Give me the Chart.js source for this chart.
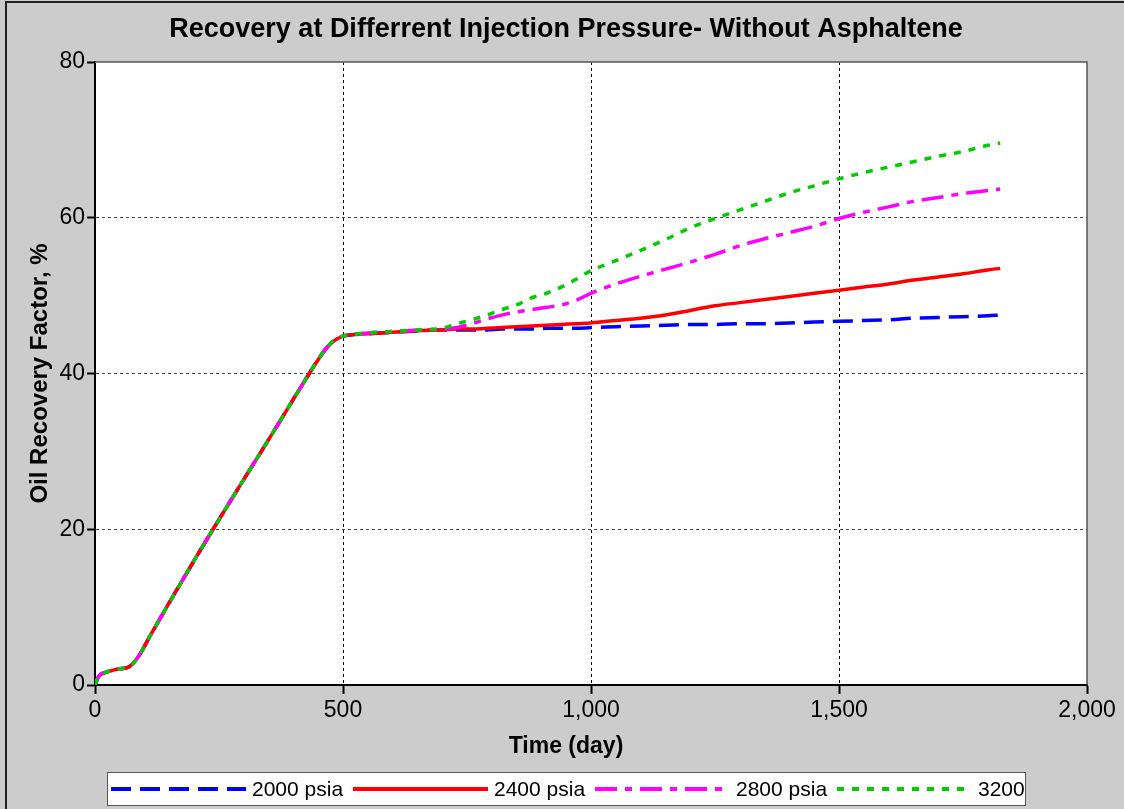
<!DOCTYPE html>
<html>
<head>
<meta charset="utf-8">
<script src="https://cdn.jsdelivr.net/npm/chart.js@4.4.0/dist/chart.umd.min.js"></script>
<style>
html, body { margin: 0; padding: 0; background: #cccccc; }
#wrap { width: 1124px; height: 809px; }
</style>
</head>
<body>
<div id="wrap"><canvas id="recovery"></canvas></div>
<script>
// time axis, days
var days = [0, 5, 10, 20, 36, 50, 64, 77, 90, 111, 150, 200, 238, 300, 350, 400, 432, 447, 462, 474,
    487, 500, 550, 600, 650, 700, 730, 760, 790, 820, 850, 880, 910, 940, 970, 1000,
    1050, 1100, 1150, 1200, 1250, 1300, 1350, 1400, 1450, 1500, 1550, 1600, 1650, 1700, 1750, 1800, 1825];

// oil recovery factor, %
var rf2000 = [0, 0.8, 1.3, 1.6, 1.9, 2.1, 2.2, 2.8, 3.9, 6.3, 10.6, 16.0, 20.0, 26.4, 31.5, 36.7, 40.0, 41.5, 42.9, 43.8,
    44.4, 44.8, 45.1, 45.3, 45.5, 45.6, 45.6, 45.6, 45.6, 45.7, 45.7, 45.7, 45.8, 45.8, 45.8, 45.9,
    46.0, 46.1, 46.2, 46.3, 46.3, 46.4, 46.4, 46.5, 46.6, 46.7, 46.8, 46.9, 47.1, 47.2, 47.3, 47.4, 47.5];
var rf2400 = [0, 0.8, 1.3, 1.6, 1.9, 2.1, 2.2, 2.8, 3.9, 6.3, 10.6, 16.0, 20.0, 26.4, 31.5, 36.7, 40.0, 41.5, 42.9, 43.8,
    44.4, 44.8, 45.1, 45.3, 45.5, 45.6, 45.7, 45.7, 45.8, 45.9, 46.0, 46.1, 46.2, 46.3, 46.4, 46.5,
    46.8, 47.1, 47.5, 48.1, 48.7, 49.1, 49.5, 49.9, 50.3, 50.7, 51.1, 51.5, 52.0, 52.4, 52.8, 53.3, 53.5];
var rf2800 = [0, 0.8, 1.3, 1.6, 1.9, 2.1, 2.2, 2.8, 3.9, 6.3, 10.6, 16.0, 20.0, 26.4, 31.5, 36.7, 40.0, 41.5, 42.9, 43.8,
    44.4, 44.8, 45.2, 45.4, 45.6, 45.7, 45.9, 46.4, 47.0, 47.5, 47.9, 48.2, 48.5, 48.8, 49.4, 50.3,
    51.5, 52.5, 53.4, 54.3, 55.3, 56.4, 57.3, 58.1, 58.9, 59.9, 60.7, 61.4, 62.1, 62.6, 63.1, 63.5, 63.7];
var rf3200 = [0, 0.8, 1.3, 1.6, 1.9, 2.1, 2.2, 2.8, 3.9, 6.3, 10.6, 16.0, 20.0, 26.4, 31.5, 36.7, 40.0, 41.5, 42.9, 43.8,
    44.4, 44.8, 45.2, 45.4, 45.6, 45.8, 46.4, 46.9, 47.5, 48.2, 48.8, 49.7, 50.3, 51.1, 52.1, 53.2,
    54.5, 55.8, 57.2, 58.7, 59.9, 61.0, 62.1, 63.2, 64.1, 65.0, 65.8, 66.5, 67.2, 67.9, 68.5, 69.3, 69.6];

var seriesNames = ["2000 psia", "2400 psia", "2800 psia", "3200"];
var xTicks = [0, 500, 1000, 1500, 2000];
var yTicks = [0, 20, 40, 60, 80];

var FONT = "'Liberation Sans', Arial, sans-serif";

function points(vals) {
    return days.map(function(d, i) { return {x: d, y: vals[i]}; });
}

var frame = {
    id: "frame",
    beforeDraw: function(chart) {
        var ctx = chart.ctx, a = chart.chartArea;
        ctx.save();
        ctx.fillStyle = "#cccccc";
        ctx.fillRect(0, 0, chart.width, chart.height);
        ctx.fillStyle = "#ffffff";
        ctx.fillRect(a.left, a.top, a.right - a.left, a.bottom - a.top);
        // outer border
        ctx.strokeStyle = "#222222";
        ctx.lineWidth = 2;
        ctx.beginPath();
        ctx.moveTo(6, chart.height);
        ctx.lineTo(6, 2);
        ctx.lineTo(chart.width, 2);
        ctx.stroke();
        // titles
        ctx.fillStyle = "#000000";
        ctx.textAlign = "center";
        ctx.textBaseline = "middle";
        ctx.font = "bold 27px " + FONT;
        ctx.fillText("Recovery at Differrent Injection Pressure- Without Asphaltene", 566, 30);
        ctx.font = "bold 23px " + FONT;
        ctx.fillText("Time (day)", 566, 747);
        ctx.restore();
    },
    afterDraw: function(chart) {
        var ctx = chart.ctx, a = chart.chartArea;
        ctx.save();
        ctx.strokeStyle = "#555555";
        ctx.lineWidth = 1.5;
        ctx.beginPath();
        ctx.moveTo(a.left, a.top);
        ctx.lineTo(a.right, a.top);
        ctx.lineTo(a.right, a.bottom);
        ctx.stroke();

        // legend box
        ctx.fillStyle = "#ffffff";
        ctx.fillRect(107, 772, 918, 33);
        ctx.strokeStyle = "#555555";
        ctx.lineWidth = 1;
        ctx.strokeRect(107.5, 772.5, 918, 33);
        ctx.font = "21px " + FONT;
        ctx.textBaseline = "middle";
        ctx.textAlign = "left";
        var starts = [111, 353, 595, 837], y = 789;
        chart.data.datasets.forEach(function(ds, i) {
            var x = starts[i];
            ctx.strokeStyle = ds.borderColor;
            ctx.lineWidth = 4;
            ctx.setLineDash(ds.borderDash || []);
            ctx.beginPath();
            ctx.moveTo(x, y);
            ctx.lineTo(x + 135, y);
            ctx.stroke();
            ctx.setLineDash([]);
            ctx.fillStyle = "#000000";
            ctx.fillText(ds.label, x + 141, y + 1);
        });
        ctx.restore();
    }
};

var ctx = document.getElementById("recovery");
var myChart = new Chart(ctx, {
    type: "line",
    data: {
        datasets: [
            {label: seriesNames[0], data: points(rf2000), borderColor: "#0000ff", borderDash: [20, 9], order: 3},
            {label: seriesNames[1], data: points(rf2400), borderColor: "#ff0000", borderDash: [], order: 2},
            {label: seriesNames[2], data: points(rf2800), borderColor: "#ff00ff", borderDash: [22, 8, 7, 8], order: 1},
            {label: seriesNames[3], data: points(rf3200), borderColor: "#00cc00", borderDash: [7, 8], order: 0}
        ]
    },
    options: {
        responsive: true,
        maintainAspectRatio: false,
        animation: false,
        layout: { padding: { left: 0, right: 37, top: 62, bottom: 0 } },
        elements: {
            point: { radius: 0 },
            line: { borderWidth: 3.5, cubicInterpolationMode: "monotone", fill: false }
        },
        plugins: {
            legend: { display: false },
            title: { display: false },
            tooltip: { enabled: false }
        },
        scales: {
            x: {
                type: "linear",
                min: 0,
                max: 2000,
                afterFit: function(scale) { scale.height = 124; },
                afterBuildTicks: function(scale) { scale.ticks = xTicks.map(function(v) { return {value: v}; }); },
                ticks: { color: "#000000", font: { family: FONT, size: 23 }, padding: 3, maxRotation: 0 },
                grid: {
                    color: function(c) { return (c.tick && (c.tick.value === 0 || c.tick.value === 2000)) ? "rgba(0,0,0,0)" : "#000000"; },
                    lineWidth: 1,
                    tickColor: "#000000",
                    tickWidth: 2,
                    tickLength: 9
                },
                border: { display: true, color: "#000000", width: 2, dash: [3, 3] }
            },
            y: {
                min: 0,
                max: 80,
                afterFit: function(scale) { scale.width = 95; },
                afterBuildTicks: function(scale) { scale.ticks = yTicks.map(function(v) { return {value: v}; }); },
                ticks: { color: "#000000", font: { family: FONT, size: 23 }, padding: 2 },
                grid: {
                    color: function(c) { return (c.tick && (c.tick.value === 0 || c.tick.value === 80)) ? "rgba(0,0,0,0)" : "#444444"; },
                    lineWidth: 1,
                    tickColor: "#000000",
                    tickWidth: 2,
                    tickLength: 8
                },
                border: { display: true, color: "#000000", width: 2, dash: [3, 3] },
                title: { display: true, text: "Oil Recovery Factor, %", color: "#000000", font: { family: FONT, size: 24, weight: "bold" }, padding: { top: 26, bottom: 0 } }
            }
        }
    },
    plugins: [frame]
});
</script>
</body>
</html>
